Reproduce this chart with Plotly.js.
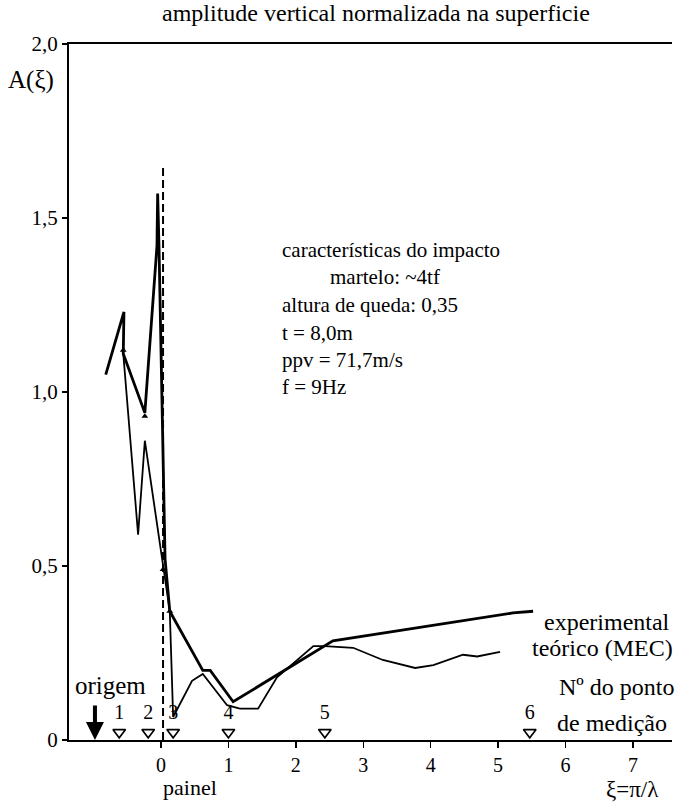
<!DOCTYPE html>
<html>
<head>
<meta charset="utf-8">
<script src="https://cdn.plot.ly/plotly-3.0.1.min.js"></script>
<style>html,body{margin:0;padding:0;background:#fff;}#chart{width:681px;height:806px;}</style>
</head>
<body>
<div id="chart"></div>
<script>
// experimental curve (thick)
const expX = [-0.82, -0.55, -0.56, -0.24, -0.06, -0.05, -0.03, 0.06, 0.13, 0.62, 0.73, 1.07, 2.55, 5.22, 5.52];
const expY = [1.05, 1.23, 1.11, 0.94, 1.42, 1.57, 1.42, 0.52, 0.37, 0.20, 0.20, 0.11, 0.285, 0.365, 0.37];
// theoretical curve (MEC, thin)
const theoX = [-0.56, -0.34, -0.24, 0.03, 0.13, 0.18, 0.46, 0.62, 0.98, 1.17, 1.44, 1.72, 2.26, 2.43, 2.85, 3.29, 3.77, 4.04, 4.48, 4.69, 5.03];
const theoY = [1.11, 0.59, 0.86, 0.51, 0.37, 0.066, 0.17, 0.19, 0.10, 0.09, 0.09, 0.18, 0.27, 0.27, 0.265, 0.23, 0.207, 0.215, 0.245, 0.24, 0.253];
// measured-point markers on the experimental curve
const markX = [-0.56, -0.24, 0.03, 0.13];
const markY = [1.12, 0.93, 0.49, 0.37];
// panel position (dashed line)
const panelX = [0.03, 0.03];
const panelY = [0, 1.65];
// measurement point positions along the surface
const ptX = [-0.62, -0.19, 0.18, 1.0, 2.43, 5.47];
const ptY = [0.022, 0.022, 0.022, 0.022, 0.022, 0.022];
const ptLabels = ['1', '2', '3', '4', '5', '6'];
// origin
const originX = -0.98;
const originY = 0;
// axis ticks
const xTickVals = [0, 1, 2, 3, 4, 5, 6, 7];
const xTickText = ['0', '1', '2', '3', '4', '5', '6', '7'];
const yTickVals = [0, 0.5, 1.0, 1.5, 2.0];
const yTickText = ['0', '0,5', '1,0', '1,5', '2,0'];

const serif = "'Liberation Serif', 'Times New Roman', serif";

const traces = [
  {x: panelX, y: panelY, mode: 'lines', line: {color: '#000', width: 2, dash: '8px,4px'}, hoverinfo: 'skip'},
  {x: theoX, y: theoY, mode: 'lines', line: {color: '#000', width: 1.8}, name: 'teórico (MEC)'},
  {x: expX, y: expY, mode: 'lines', line: {color: '#000', width: 2.8}, name: 'experimental'},
  {x: markX, y: markY, mode: 'markers', marker: {symbol: 'triangle-up', size: 6, color: '#000'}, hoverinfo: 'skip'},
  {x: ptX, y: ptY, mode: 'markers+text', text: ptLabels, textposition: 'top center',
   textfont: {family: serif, size: 20, color: '#000'}, cliponaxis: false,
   marker: {symbol: 'triangle-down-open', size: 11, color: '#000', line: {width: 1.6, color: '#000'}}, hoverinfo: 'skip'}
];

const info = {xanchor: 'left', yanchor: 'middle', showarrow: false, font: {size: 21}};

const layout = {
  width: 681, height: 806,
  margin: {l: 69, r: 9, t: 44, b: 66},
  paper_bgcolor: '#fff', plot_bgcolor: '#fff',
  showlegend: false,
  font: {family: serif, color: '#000', size: 17},
  title: {text: 'amplitude vertical normalizada na superficie', font: {family: serif, size: 24, color: '#000'},
          x: 0.552, xanchor: 'center', y: 0.995, yanchor: 'top'},
  xaxis: {range: [-1.365, 7.58], tickvals: xTickVals, ticktext: xTickText, showgrid: false, zeroline: false,
          showline: true, linecolor: '#000', linewidth: 2, mirror: true, ticks: 'outside', ticklen: 6, tickwidth: 1.5,
          tickcolor: '#000', tickfont: {family: serif, size: 20, color: '#000'}},
  yaxis: {range: [0, 2.0], tickvals: yTickVals, ticktext: yTickText, showgrid: false, zeroline: false,
          showline: true, linecolor: '#000', linewidth: 2, ticks: 'outside', ticklen: 5, tickwidth: 1.5,
          tickcolor: '#000', tickfont: {family: serif, size: 21, color: '#000'}},
  annotations: [
    {text: 'A(ξ)', xref: 'paper', yref: 'paper', x: -0.105, y: 0.948, xanchor: 'left', yanchor: 'middle', showarrow: false, font: {size: 25}},
    Object.assign({text: 'características do impacto', xref: 'x', yref: 'y', x: 1.77, y: 1.408}, info),
    Object.assign({text: 'martelo: ~4tf', xref: 'x', yref: 'y', x: 2.48, y: 1.33}, info),
    Object.assign({text: 'altura de queda: 0,35', xref: 'x', yref: 'y', x: 1.77, y: 1.25}, info),
    Object.assign({text: 't = 8,0m', xref: 'x', yref: 'y', x: 1.77, y: 1.17}, info),
    Object.assign({text: 'ppv = 71,7m/s', xref: 'x', yref: 'y', x: 1.77, y: 1.092}, info),
    Object.assign({text: 'f = 9Hz', xref: 'x', yref: 'y', x: 1.77, y: 1.014}, info),
    {text: 'experimental', xref: 'x', yref: 'y', x: 5.65, y: 0.339, xanchor: 'left', yanchor: 'middle', showarrow: false, font: {size: 24}},
    {text: 'teórico (MEC)', xref: 'x', yref: 'y', x: 5.47, y: 0.264, xanchor: 'left', yanchor: 'middle', showarrow: false, font: {size: 24}},
    {text: 'Nº do ponto', xref: 'x', yref: 'y', x: 5.87, y: 0.152, xanchor: 'left', yanchor: 'middle', showarrow: false, font: {size: 24}},
    {text: 'de medição', xref: 'x', yref: 'y', x: 5.85, y: 0.049, xanchor: 'left', yanchor: 'middle', showarrow: false, font: {size: 24}},
    {text: 'origem', xref: 'x', yref: 'y', x: -1.31, y: 0.158, xanchor: 'left', yanchor: 'middle', showarrow: false, font: {size: 25}},
    {text: '', x: originX, y: originY, xref: 'x', yref: 'y', showarrow: true, ax: 0, ay: -36, arrowhead: 2, arrowsize: 0.9, arrowwidth: 4, arrowcolor: '#000'},
    {text: 'painel', xref: 'x', yref: 'paper', x: 0.43, y: -0.068, yanchor: 'middle', showarrow: false, font: {size: 22}},
    {text: 'ξ=π/λ', xref: 'x', yref: 'paper', x: 7.0, y: -0.071, yanchor: 'middle', showarrow: false, font: {size: 23}}
  ]
};

Plotly.newPlot('chart', traces, layout, {staticPlot: true, displayModeBar: false});
</script>
</body>
</html>
